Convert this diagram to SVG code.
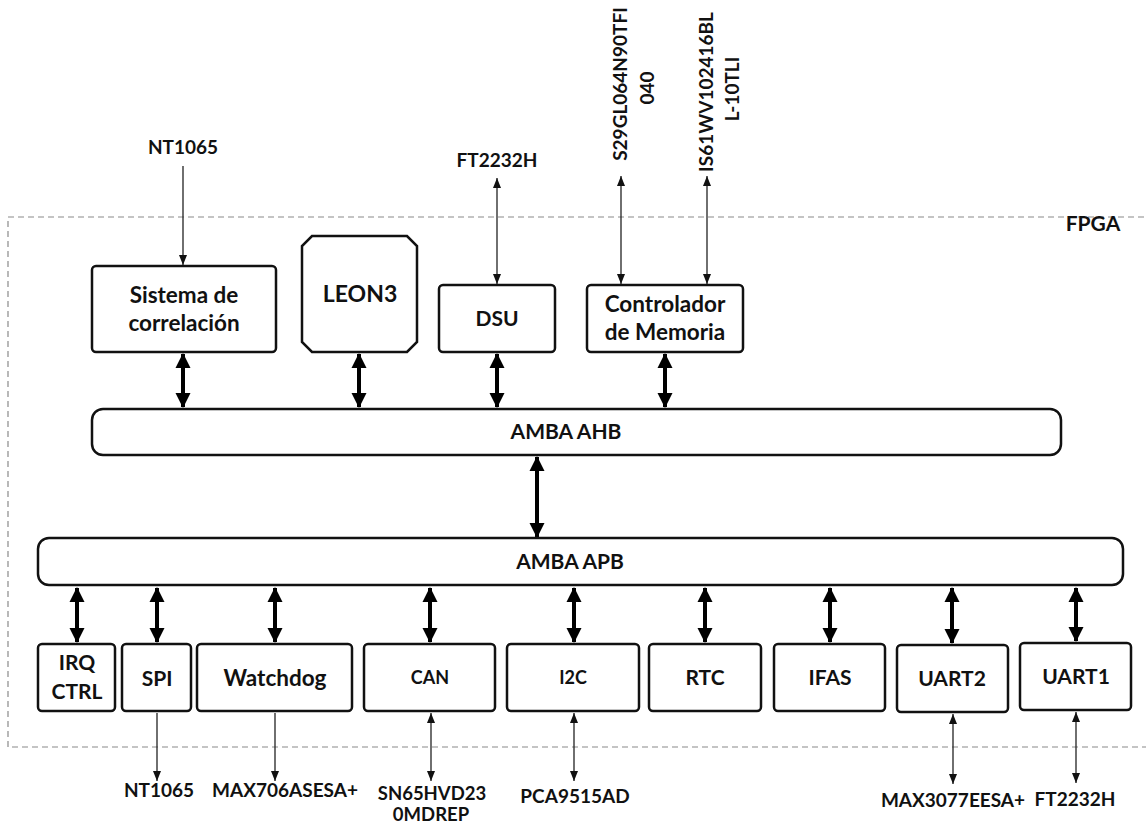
<svg xmlns="http://www.w3.org/2000/svg" width="1146" height="826" viewBox="0 0 1146 826">
<style>
  text { font-family: Lato, "Liberation Sans", sans-serif; font-weight: bold; fill: #111; text-anchor: middle; }
  .box { fill: #fff; stroke: #111; stroke-width: 2.5; }
  .bus { fill: #fff; stroke: #111; stroke-width: 2.5; }
  .lbl { font-size: 21px; }
  .mix { font-size: 22.5px; }
  .sm { font-size: 18px; }
  .ext { font-size: 19px; }
  .thick { stroke: #000; stroke-width: 4; fill: none; }
  .thin { stroke: #222; stroke-width: 1.3; fill: none; }
  .frame { fill: none; stroke: #8a8a8a; stroke-width: 1.2; stroke-dasharray: 6 4; }
</style>
<defs>
  <marker id="bigHead" markerUnits="userSpaceOnUse" markerWidth="18" markerHeight="18" viewBox="0 0 18 18" refX="15" refY="9" orient="auto-start-reverse">
    <path d="M1,1.5 L16,9 L1,16.5 Z" fill="#000"/>
  </marker>
  <marker id="smHead" markerUnits="userSpaceOnUse" markerWidth="12" markerHeight="12" viewBox="0 0 12 12" refX="11" refY="6" orient="auto-start-reverse">
    <path d="M1,2 L11,6 L1,10 Z" fill="#111"/>
  </marker>
</defs>

<rect id="fpga-frame" class="frame" x="8" y="217" width="1160" height="530"/>
<text x="1093" y="231" class="lbl">FPGA</text>

<g id="connectors">
  <!-- thin external connectors -->
  <line class="thin" x1="183" y1="166" x2="183" y2="265" marker-end="url(#smHead)"/>
  <line class="thin" x1="497" y1="178" x2="497" y2="284" marker-start="url(#smHead)" marker-end="url(#smHead)"/>
  <line class="thin" x1="621" y1="176" x2="621" y2="284" marker-start="url(#smHead)" marker-end="url(#smHead)"/>
  <line class="thin" x1="707" y1="176" x2="707" y2="284" marker-start="url(#smHead)" marker-end="url(#smHead)"/>
  <line class="thin" x1="157" y1="713" x2="157" y2="781" marker-end="url(#smHead)"/>
  <line class="thin" x1="275" y1="713" x2="275" y2="781" marker-end="url(#smHead)"/>
  <line class="thin" x1="431" y1="713" x2="431" y2="781" marker-start="url(#smHead)" marker-end="url(#smHead)"/>
  <line class="thin" x1="574" y1="713" x2="574" y2="781" marker-start="url(#smHead)" marker-end="url(#smHead)"/>
  <line class="thin" x1="953" y1="714" x2="953" y2="784" marker-start="url(#smHead)" marker-end="url(#smHead)"/>
  <line class="thin" x1="1076" y1="712" x2="1076" y2="783" marker-start="url(#smHead)" marker-end="url(#smHead)"/>
  <!-- thick bus connectors -->
  <line class="thick" x1="183" y1="354" x2="183" y2="407" marker-start="url(#bigHead)" marker-end="url(#bigHead)"/>
  <line class="thick" x1="359" y1="354" x2="359" y2="407" marker-start="url(#bigHead)" marker-end="url(#bigHead)"/>
  <line class="thick" x1="497" y1="354" x2="497" y2="407" marker-start="url(#bigHead)" marker-end="url(#bigHead)"/>
  <line class="thick" x1="665" y1="354" x2="665" y2="407" marker-start="url(#bigHead)" marker-end="url(#bigHead)"/>
  <line class="thick" x1="537" y1="457" x2="537" y2="537" marker-start="url(#bigHead)" marker-end="url(#bigHead)"/>
  <line class="thick" x1="77" y1="588" x2="77" y2="642" marker-start="url(#bigHead)" marker-end="url(#bigHead)"/>
  <line class="thick" x1="157" y1="588" x2="157" y2="642" marker-start="url(#bigHead)" marker-end="url(#bigHead)"/>
  <line class="thick" x1="275" y1="588" x2="275" y2="642" marker-start="url(#bigHead)" marker-end="url(#bigHead)"/>
  <line class="thick" x1="430" y1="588" x2="430" y2="642" marker-start="url(#bigHead)" marker-end="url(#bigHead)"/>
  <line class="thick" x1="574" y1="588" x2="574" y2="642" marker-start="url(#bigHead)" marker-end="url(#bigHead)"/>
  <line class="thick" x1="705" y1="588" x2="705" y2="642" marker-start="url(#bigHead)" marker-end="url(#bigHead)"/>
  <line class="thick" x1="830" y1="588" x2="830" y2="642" marker-start="url(#bigHead)" marker-end="url(#bigHead)"/>
  <line class="thick" x1="952" y1="588" x2="952" y2="643" marker-start="url(#bigHead)" marker-end="url(#bigHead)"/>
  <line class="thick" x1="1076" y1="588" x2="1076" y2="641" marker-start="url(#bigHead)" marker-end="url(#bigHead)"/>
</g>

<!-- external labels -->
<g id="ext-labels">
  <text x="183" y="154" class="ext">NT1065</text>
  <text x="497" y="167" class="ext">FT2232H</text>
  <g transform="translate(620,84) rotate(-90)"><text x="0" y="7" class="ext">S29GL064N90TFI</text></g>
  <g transform="translate(647,88) rotate(-90)"><text x="0" y="7" class="ext">040</text></g>
  <g transform="translate(706,92) rotate(-90)"><text x="0" y="7" class="ext">IS61WV102416BL</text></g>
  <g transform="translate(732,89) rotate(-90)"><text x="0" y="7" class="ext">L-10TLI</text></g>
  <text x="159" y="797" class="ext">NT1065</text>
  <text x="285" y="797" class="ext">MAX706ASESA+</text>
  <text x="432" y="800" class="ext" style="font-size:18.5px">SN65HVD23</text>
  <text x="431" y="821" class="ext" style="font-size:18.5px">0MDREP</text>
  <text x="575" y="803" class="ext">PCA9515AD</text>
  <text x="953" y="807" class="ext">MAX3077EESA+</text>
  <text x="1075" y="806" class="ext">FT2232H</text>
</g>

<g id="sistema">
  <rect class="box" x="92" y="266" width="184" height="86" rx="4"/>
  <text x="184" y="303" class="mix">Sistema de</text>
  <text x="184" y="331" class="mix">correlación</text>
</g>
<g id="leon3">
  <path class="box" d="M312,236 L407,236 L417,246 L417,342 L407,352 L312,352 L302,342 L302,246 Z"/>
  <text x="360" y="302" style="font-size:23px">LEON3</text>
</g>
<g id="dsu">
  <rect class="box" x="439" y="285" width="116" height="67" rx="4"/>
  <text x="497" y="326" class="lbl">DSU</text>
</g>
<g id="controlador">
  <rect class="box" x="587" y="285" width="156" height="67" rx="4"/>
  <text x="665" y="312" class="mix">Controlador</text>
  <text x="665" y="340" class="mix">de Memoria</text>
</g>

<g id="ahb">
  <rect class="bus" x="92" y="409" width="969" height="46" rx="11"/>
  <text x="566" y="439" class="lbl">AMBA AHB</text>
</g>
<g id="apb">
  <rect class="bus" x="38" y="538" width="1085" height="47" rx="11"/>
  <text x="570" y="569" class="lbl">AMBA APB</text>
</g>

<g id="irq">
  <rect class="box" x="38" y="644" width="77" height="67" rx="4"/>
  <text x="77" y="670" class="lbl">IRQ</text>
  <text x="77" y="699" class="lbl">CTRL</text>
</g>
<g id="spi">
  <rect class="box" x="122" y="644" width="69" height="67" rx="4"/>
  <text x="157" y="686" class="lbl">SPI</text>
</g>
<g id="watchdog">
  <rect class="box" x="197" y="644" width="155" height="67" rx="4"/>
  <text x="275" y="686" class="mix">Watchdog</text>
</g>
<g id="can">
  <rect class="box" x="364" y="644" width="131" height="67" rx="4"/>
  <text x="430" y="684" class="sm">CAN</text>
</g>
<g id="i2c">
  <rect class="box" x="507" y="644" width="132" height="67" rx="4"/>
  <text x="573" y="684" class="sm">I2C</text>
</g>
<g id="rtc">
  <rect class="box" x="649" y="644" width="112" height="67" rx="4"/>
  <text x="705" y="685" class="lbl">RTC</text>
</g>
<g id="ifas">
  <rect class="box" x="774" y="644" width="111" height="67" rx="4"/>
  <text x="830" y="685" class="lbl">IFAS</text>
</g>
<g id="uart2">
  <rect class="box" x="897" y="645" width="111" height="67" rx="4"/>
  <text x="952" y="686" class="lbl">UART2</text>
</g>
<g id="uart1">
  <rect class="box" x="1020" y="643" width="111" height="67" rx="4"/>
  <text x="1076" y="684" class="lbl">UART1</text>
</g>
</svg>
